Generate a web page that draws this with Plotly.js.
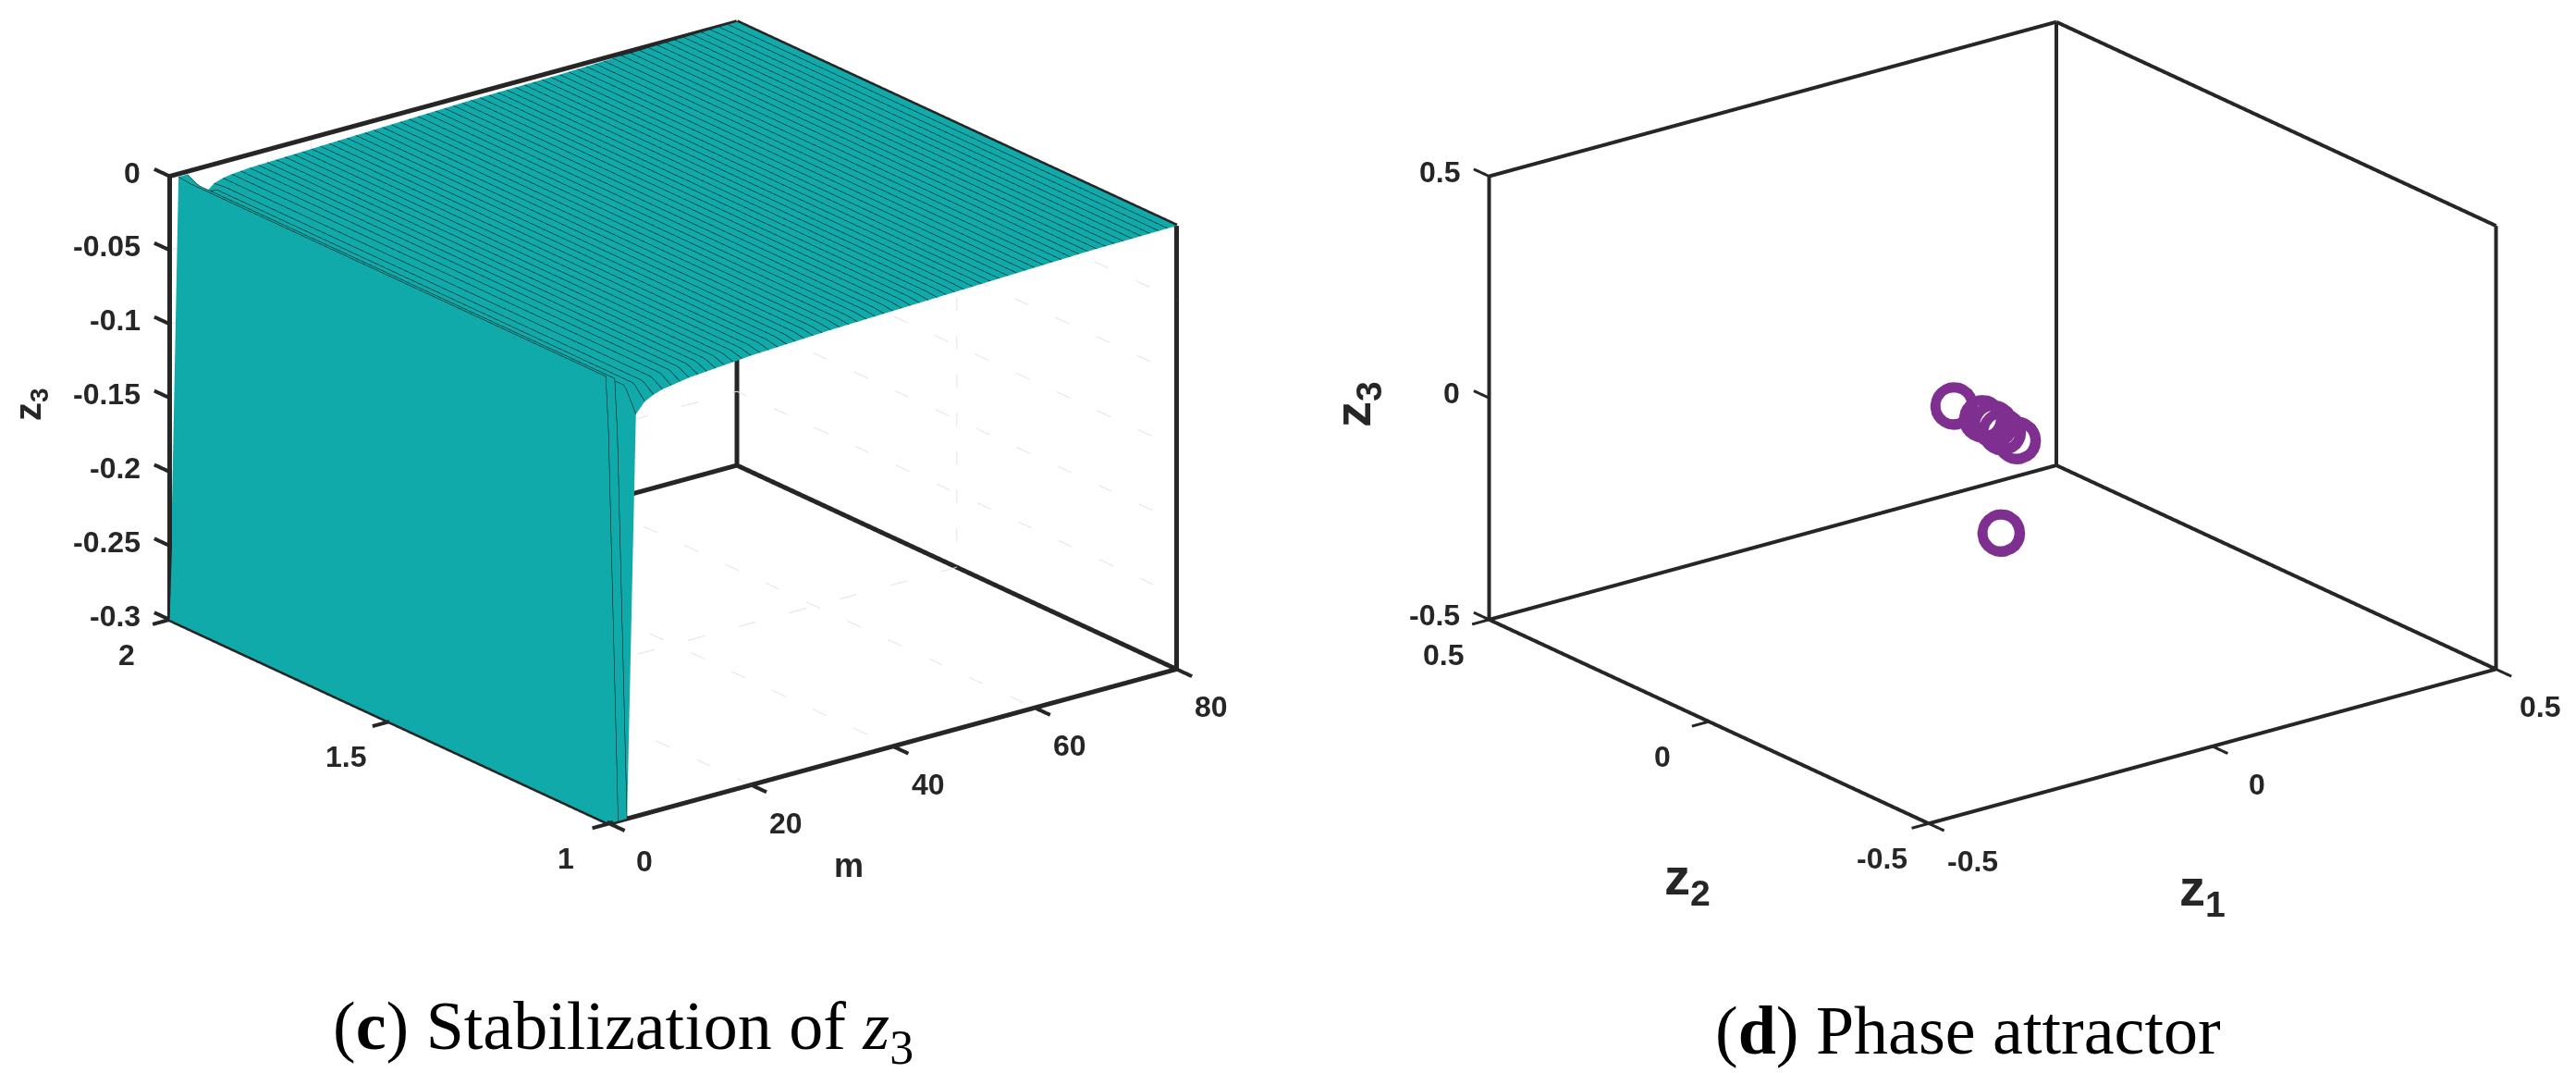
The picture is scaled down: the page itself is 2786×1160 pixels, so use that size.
<!DOCTYPE html>
<html>
<head>
<meta charset="utf-8">
<script src="https://cdn.plot.ly/plotly-3.0.1.min.js"></script>
<style>html,body{margin:0;padding:0;background:#fff}</style>
</head>
<body>
<div id="chart" style="width:2786px;height:1160px"></div>
<script>
// panel c: surface rows
const mValues = [0,1.25,2.5,3.75,5,6.25,7.5,8.75,10,11.25,12.5,13.75,15,16.25,17.5,18.75,20,21.25,22.5,23.75,25,26.25,27.5,28.75,30,31.25,32.5,33.75,35,36.25,37.5,38.75,40,41.25,42.5,43.75,45,46.25,47.5,48.75,50,51.25,52.5,53.75,55,56.25,57.5,58.75,60,61.25,62.5,63.75,65,66.25,67.5,68.75,70,71.25,72.5,73.75,75,76.25,77.5,78.75,80];
const yValues = [1,1.025,1.05,1.075,1.1,1.125,1.15,1.175,1.2,1.225,1.25,1.275,1.3,1.325,1.35,1.375,1.4,1.425,1.45,1.475,1.5,1.525,1.55,1.575,1.6,1.625,1.65,1.675,1.7,1.725,1.75,1.775,1.8,1.825,1.85,1.875,1.9,1.925,1.95,1.975,2];
// y = 1 edge
const zFront = [-0.3,-0.3,-0.3,-0.028,-0.021,-0.018,-0.016,-0.015,-0.014,-0.013,-0.0125,-0.012,-0.0115,-0.011,-0.0105,-0.01,-0.0095,-0.0092,-0.0089,-0.0086,-0.0083,-0.008,-0.0077,-0.0074,-0.0071,-0.0068,-0.0066,-0.0064,-0.0062,-0.006,-0.0058,-0.0056,-0.0054,-0.0052,-0.005,-0.0048,-0.0046,-0.0044,-0.0042,-0.004,-0.0038,-0.0036,-0.0034,-0.0032,-0.003,-0.0028,-0.0026,-0.0024,-0.0022,-0.002,-0.0018,-0.0016,-0.0014,-0.0012,-0.001,-0.0009,-0.0008,-0.0007,-0.0006,-0.0005,-0.0004,-0.0003,-0.0002,-0.0001,0];
// the flat top between the edges
const zMiddle = [-0.3,-0.003,-0.006,-0.012,-0.012,-0.012,-0.011,-0.01,-0.0095,-0.009,-0.0088,-0.0086,-0.0084,-0.0082,-0.008,-0.0078,-0.0076,-0.0074,-0.0072,-0.007,-0.0068,-0.0066,-0.0064,-0.0062,-0.006,-0.0058,-0.0056,-0.0054,-0.0052,-0.005,-0.0048,-0.0046,-0.0044,-0.0042,-0.004,-0.0039,-0.0038,-0.0037,-0.0036,-0.0035,-0.0034,-0.0033,-0.0032,-0.0031,-0.003,-0.0028,-0.0026,-0.0024,-0.0022,-0.002,-0.0018,-0.0016,-0.0014,-0.0012,-0.001,-0.0009,-0.0008,-0.0007,-0.0006,-0.0005,-0.0004,-0.0003,-0.0002,-0.0001,0];
// y = 2 edge
const zBack = [-0.3,-0.002,-0.002,-0.018,-0.018,-0.013,-0.011,-0.01,-0.0095,-0.009,-0.0088,-0.0086,-0.0084,-0.0082,-0.008,-0.0078,-0.0076,-0.0074,-0.0072,-0.007,-0.0068,-0.0066,-0.0064,-0.0062,-0.006,-0.0058,-0.0056,-0.0054,-0.0052,-0.005,-0.0048,-0.0046,-0.0044,-0.0042,-0.004,-0.0039,-0.0038,-0.0037,-0.0036,-0.0035,-0.0034,-0.0033,-0.0032,-0.0031,-0.003,-0.0028,-0.0026,-0.0024,-0.0022,-0.002,-0.0018,-0.0016,-0.0014,-0.0012,-0.001,-0.0009,-0.0008,-0.0007,-0.0006,-0.0005,-0.0004,-0.0003,-0.0002,-0.0001,0];

const mTicks = [0,20,40,60,80];
const yTicks = [1,1.5,2];
const zTicks = [-0.3,-0.25,-0.2,-0.15,-0.1,-0.05,0];

// panel d: attractor points
const z1Points = [-0.07,-0.0196,0,0.0147,0.041,0.013];
const z2Points = [0,0,0,0,0,0];
const z3Points = [0.0635,0.017,-0.002,-0.024,-0.053,-0.252];
const phaseTicks = [-0.5,0,0.5];
const ringSizes = [29,27,25,23,21];

const tealColor = "#11AAAA";
const purpleColor = "#7F2F8F";
const inkColor = "#262626";
const gridColor = "#e4e4e4";

const zRows = yValues.map((y, i) => i === 0 ? zFront : (i === yValues.length-1 ? zBack : zMiddle));

function addSeg(out, a, b) {
  out.x.push(a[0], b[0], null);
  out.y.push(a[1], b[1], null);
  out.z.push(a[2], b[2], null);
}

// the nine visible edges of a matlab box
function boxEdges(xr, yr, zr) {
  const [x0,x1] = xr, [y0,y1] = yr, [z0,z1] = zr;
  const out = {x:[], y:[], z:[]};
  addSeg(out, [x0,y1,z0], [x0,y1,z1]);
  addSeg(out, [x1,y1,z0], [x1,y1,z1]);
  addSeg(out, [x1,y0,z0], [x1,y0,z1]);
  addSeg(out, [x0,y1,z1], [x1,y1,z1]);
  addSeg(out, [x1,y1,z1], [x1,y0,z1]);
  addSeg(out, [x0,y1,z0], [x0,y0,z0]);
  addSeg(out, [x0,y0,z0], [x1,y0,z0]);
  addSeg(out, [x1,y0,z0], [x1,y1,z0]);
  addSeg(out, [x0,y1,z0], [x1,y1,z0]);
  return out;
}

// tick marks: each axis ticks along the neighbouring floor direction, like matlab
function tickMarks(xr, yr, zr, xt, yt, zt) {
  const out = {x:[], y:[], z:[]};
  const dx = (xr[1]-xr[0])*0.03, dy = (yr[1]-yr[0])*0.035;
  xt.forEach(v => addSeg(out, [v,yr[0],zr[0]], [v,yr[0]-dy,zr[0]]));
  yt.forEach(v => addSeg(out, [xr[0],v,zr[0]], [xr[0]-dx,v,zr[0]]));
  zt.forEach(v => addSeg(out, [xr[0],yr[1],v], [xr[0],yr[1]+dy,v]));
  return out;
}

// dotted grid on the floor and the two back walls
function gridLines(xr, yr, zr, xt, yt, zt) {
  const out = {x:[], y:[], z:[]};
  xt.slice(1,-1).forEach(v => {
    addSeg(out, [v,yr[0],zr[0]], [v,yr[1],zr[0]]);
    addSeg(out, [v,yr[1],zr[0]], [v,yr[1],zr[1]]);
  });
  yt.slice(1,-1).forEach(v => {
    addSeg(out, [xr[0],v,zr[0]], [xr[1],v,zr[0]]);
    addSeg(out, [xr[1],v,zr[0]], [xr[1],v,zr[1]]);
  });
  zt.slice(1,-1).forEach(v => {
    addSeg(out, [xr[0],yr[1],v], [xr[1],yr[1],v]);
    addSeg(out, [xr[1],yr[1],v], [xr[1],yr[0],v]);
  });
  return out;
}

const mRange = [0,80], yRange = [1,2], zRange = [-0.3,0];
const pRange = [-0.5,0.5];

function lineTrace(scene, color, width, coords, dash) {
  return Object.assign({type:"scatter3d", mode:"lines", scene:scene, hoverinfo:"skip", showlegend:false,
    line:{color:color, width:width, dash:dash || "solid"}}, coords);
}

const data = [
  lineTrace("scene", gridColor, 2, gridLines(mRange, yRange, zRange, mTicks, yTicks, zTicks), "dot"),
  lineTrace("scene", inkColor, 10, boxEdges(mRange, yRange, zRange)),
  lineTrace("scene", inkColor, 8, tickMarks(mRange, yRange, zRange, mTicks, yTicks, zTicks)),
  {
    type:"surface", scene:"scene", x:mValues, y:yValues, z:zRows,
    colorscale:[[0,tealColor],[1,tealColor]], showscale:false, hoverinfo:"skip",
    lighting:{ambient:1, diffuse:0, specular:0, roughness:1, fresnel:0},
    contours:{x:{show:true, start:0, end:80, size:1.25, color:"#000000", width:4, highlight:false},
              y:{highlight:false}, z:{highlight:false}}
  },
  lineTrace("scene2", inkColor, 8, boxEdges(pRange, pRange, pRange)),
  lineTrace("scene2", inkColor, 6, tickMarks(pRange, pRange, pRange, phaseTicks, phaseTicks, phaseTicks))
];
// one trace per ring size, stacked into a thick open circle
ringSizes.forEach(s => data.push({
  type:"scatter3d", mode:"markers", scene:"scene2", hoverinfo:"skip", showlegend:false,
  x:z1Points, y:z2Points, z:z3Points,
  marker:{symbol:"circle-open", size:s, color:purpleColor, line:{color:purpleColor, width:8}}
}));

// axes are only there for the scale; range padded evenly so the ticks are not clipped
function sceneAxis(range, ticks, pad) {
  const span = range[1]-range[0];
  return {
    range:[range[0]-span*pad, range[1]+span*pad], autorange:false, tickmode:"array", tickvals:ticks,
    showticklabels:false, ticks:"", showline:false, showgrid:false, zeroline:false,
    showbackground:false, showspikes:false, title:{text:""}
  };
}

// tick labels as scene annotations, so they sit on the real axes
const tickFont = {family:"Liberation Sans", size:32, color:inkColor, weight:"bold"};
function tickNote(x, y, z, text, dx, dy, anchor) {
  return {x:x, y:y, z:z, text:text, showarrow:false, font:tickFont,
    xanchor:anchor || "center", yanchor:"middle", xshift:dx, yshift:dy};
}
const notesC = [];
zTicks.forEach(v => notesC.push(tickNote(0, 2, v, String(v), -30, 4, "right")));
yTicks.forEach(v => notesC.push(tickNote(0, v, -0.3, String(v), -47, -38)));
mTicks.forEach(v => notesC.push(tickNote(v, 1, -0.3, String(v), 38, -41)));
const notesD = [];
phaseTicks.forEach(v => notesD.push(tickNote(-0.5, 0.5, v, String(v), -30, 5, "right")));
phaseTicks.forEach(v => notesD.push(tickNote(-0.5, v, -0.5, String(v), -50, -38)));
phaseTicks.forEach(v => notesD.push(tickNote(v, -0.5, -0.5, String(v), 48, -41)));

// eye far back: the scale comes from the aspect ratio here, and a near eye clips the front corner
const camera = {
  projection:{type:"orthographic"},
  up:{x:0,y:0,z:1}, center:{x:0,y:0,z:0},
  eye:{x:-2.842, y:-3.7105, z:1.775}
};
const padX = 0.04, padY = 0.04;
const aspect = {x:1.691*(1+2*padX), y:1.711*(1+2*padY), z:1.122};

function paperNote(xpx, ypx, text, size, opts) {
  return Object.assign({xref:"paper", yref:"paper", x:xpx/2786, y:1-ypx/1160, text:text, showarrow:false,
    xanchor:"center", yanchor:"middle", font:{family:"Liberation Sans", size:size, color:inkColor, weight:"bold"}}, opts || {});
}
const captionFont = {family:"Liberation Serif", size:74, color:"#000000"};

const layout = {
  width:2786, height:1160, margin:{t:0,l:0,r:0,b:0},
  paper_bgcolor:"#ffffff", showlegend:false, hovermode:false,
  scene:{
    domain:{x:[88/2786,1368/2786], y:[246/1160,1]},
    aspectmode:"manual", aspectratio:aspect, camera:camera,
    xaxis:sceneAxis(mRange, mTicks, padX), yaxis:sceneAxis(yRange, yTicks, padY), zaxis:sceneAxis(zRange, zTicks, 0),
    annotations:notesC
  },
  scene2:{
    domain:{x:[1524/2786,1], y:[246/1160,1]},
    aspectmode:"manual", aspectratio:aspect, camera:camera,
    xaxis:sceneAxis(pRange, phaseTicks, padX), yaxis:sceneAxis(pRange, phaseTicks, padY), zaxis:sceneAxis(pRange, phaseTicks, 0),
    annotations:notesD
  },
  annotations:[
    paperNote(918, 936, "m", 36),
    paperNote(33, 437, "z<sub>3</sub>", 40, {textangle:-90}),
    paperNote(1467, 437, "z<sub>3</sub>", 56, {textangle:-90}),
    paperNote(1825, 951, "z<sub>2</sub>", 56),
    paperNote(2382, 963, "z<sub>1</sub>", 56),
    paperNote(674, 1114, "(<b>c</b>) Stabilization of <i>z</i><sub>3</sub>", 74, {font:captionFont}),
    paperNote(2128, 1114, "(<b>d</b>) Phase attractor", 74, {font:captionFont})
  ]
};

Plotly.newPlot("chart", data, layout, {displayModeBar:false});
</script>
</body>
</html>
